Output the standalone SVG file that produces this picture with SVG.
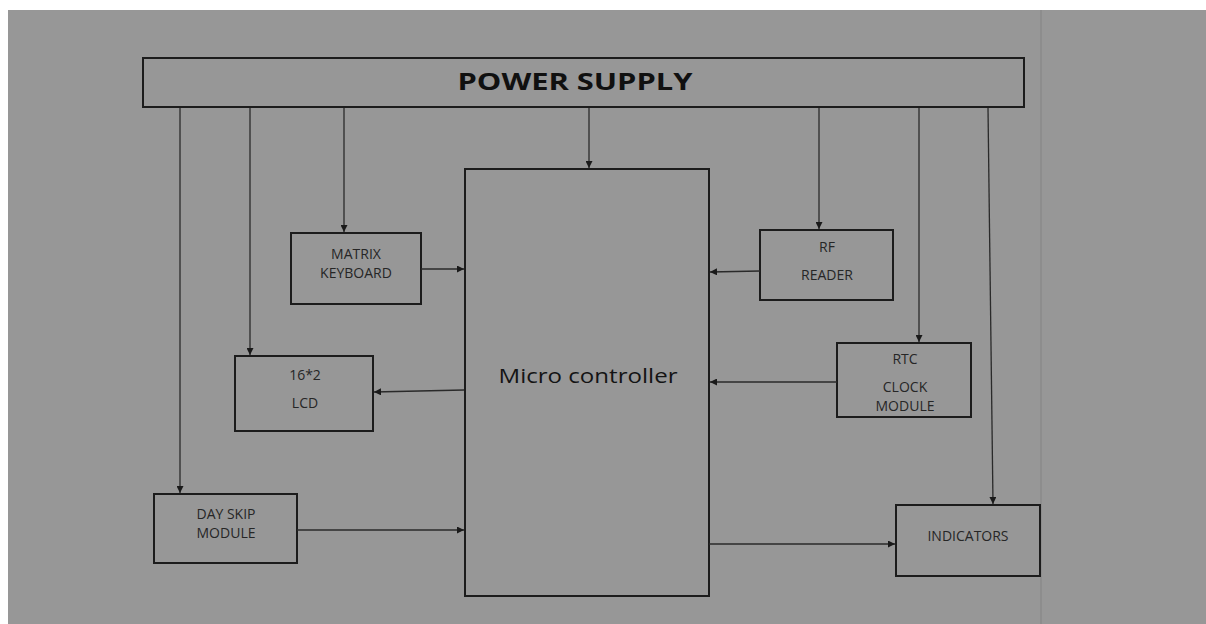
<svg xmlns="http://www.w3.org/2000/svg" width="1206" height="624" viewBox="0 0 1206 624">
<defs>
<marker id="ah" viewBox="0 0 10 10" refX="10" refY="5" markerWidth="7" markerHeight="7" markerUnits="userSpaceOnUse" orient="auto">
<path d="M0,0 L10,5 L0,10 z" fill="#1a1a1a"/>
</marker>
<style>
.box{fill:none;stroke:#1c1c1c;stroke-width:2}
.con{fill:none;stroke:#2a2a2a;stroke-width:1.3;marker-end:url(#ah)}
.t{font-family:"Open Sans","Liberation Sans",sans-serif;font-size:14px;fill:#262626;text-anchor:middle}
.big{font-family:"Open Sans","Liberation Sans",sans-serif;font-size:20px;fill:#141414;text-anchor:middle}
.ps{font-family:"Open Sans","Liberation Sans",sans-serif;font-size:23px;font-weight:bold;fill:#101010;text-anchor:middle}
</style>
</defs>
<rect x="0" y="0" width="1206" height="624" fill="#ffffff"/>
<rect x="8" y="10" width="1198" height="614" fill="#979797"/>
<line x1="1041" y1="10" x2="1041" y2="624" stroke="#8a8a8a" stroke-width="1.5"/>

<g id="power-supply">
<rect class="box" x="143" y="58" width="881" height="49"/>
<text class="ps" x="575" y="90" textLength="235" lengthAdjust="spacingAndGlyphs">POWER SUPPLY</text>
</g>
<g id="micro-controller">
<rect class="box" x="465" y="169" width="244" height="427"/>
<text class="big" x="588" y="383" textLength="179" lengthAdjust="spacingAndGlyphs">Micro controller</text>
</g>
<g id="matrix-keyboard">
<rect class="box" x="291" y="233" width="130" height="71"/>
<text class="t" x="356" y="259">MATRIX</text>
<text class="t" x="356" y="278">KEYBOARD</text>
</g>
<g id="lcd">
<rect class="box" x="235" y="356" width="138" height="75"/>
<text class="t" x="305" y="380">16*2</text>
<text class="t" x="305" y="408">LCD</text>
</g>
<g id="day-skip">
<rect class="box" x="154" y="494" width="143" height="69"/>
<text class="t" x="226" y="519">DAY SKIP</text>
<text class="t" x="226" y="538">MODULE</text>
</g>
<g id="rf-reader">
<rect class="box" x="760" y="230" width="133" height="70"/>
<text class="t" x="827" y="252">RF</text>
<text class="t" x="827" y="280">READER</text>
</g>
<g id="rtc">
<rect class="box" x="837" y="343" width="134" height="74"/>
<text class="t" x="905" y="364">RTC</text>
<text class="t" x="905" y="392">CLOCK</text>
<text class="t" x="905" y="411">MODULE</text>
</g>
<g id="indicators">
<rect class="box" x="896" y="505" width="144" height="71"/>
<text class="t" x="968" y="541">INDICATORS</text>
</g>

<g id="connectors">
<line class="con" x1="180" y1="108" x2="180" y2="493"/>
<line class="con" x1="250" y1="108" x2="250" y2="355"/>
<line class="con" x1="344" y1="108" x2="344" y2="232"/>
<line class="con" x1="589" y1="108" x2="589" y2="168"/>
<line class="con" x1="819" y1="108" x2="819" y2="229"/>
<line class="con" x1="919" y1="108" x2="919" y2="342"/>
<line class="con" x1="988" y1="108" x2="993" y2="504"/>
<line class="con" x1="421" y1="269" x2="464" y2="269"/>
<line class="con" x1="464" y1="390" x2="374" y2="392"/>
<line class="con" x1="297" y1="530" x2="464" y2="530"/>
<line class="con" x1="760" y1="271" x2="710" y2="272"/>
<line class="con" x1="837" y1="382" x2="710" y2="382"/>
<line class="con" x1="709" y1="544" x2="895" y2="544"/>
</g>
</svg>
